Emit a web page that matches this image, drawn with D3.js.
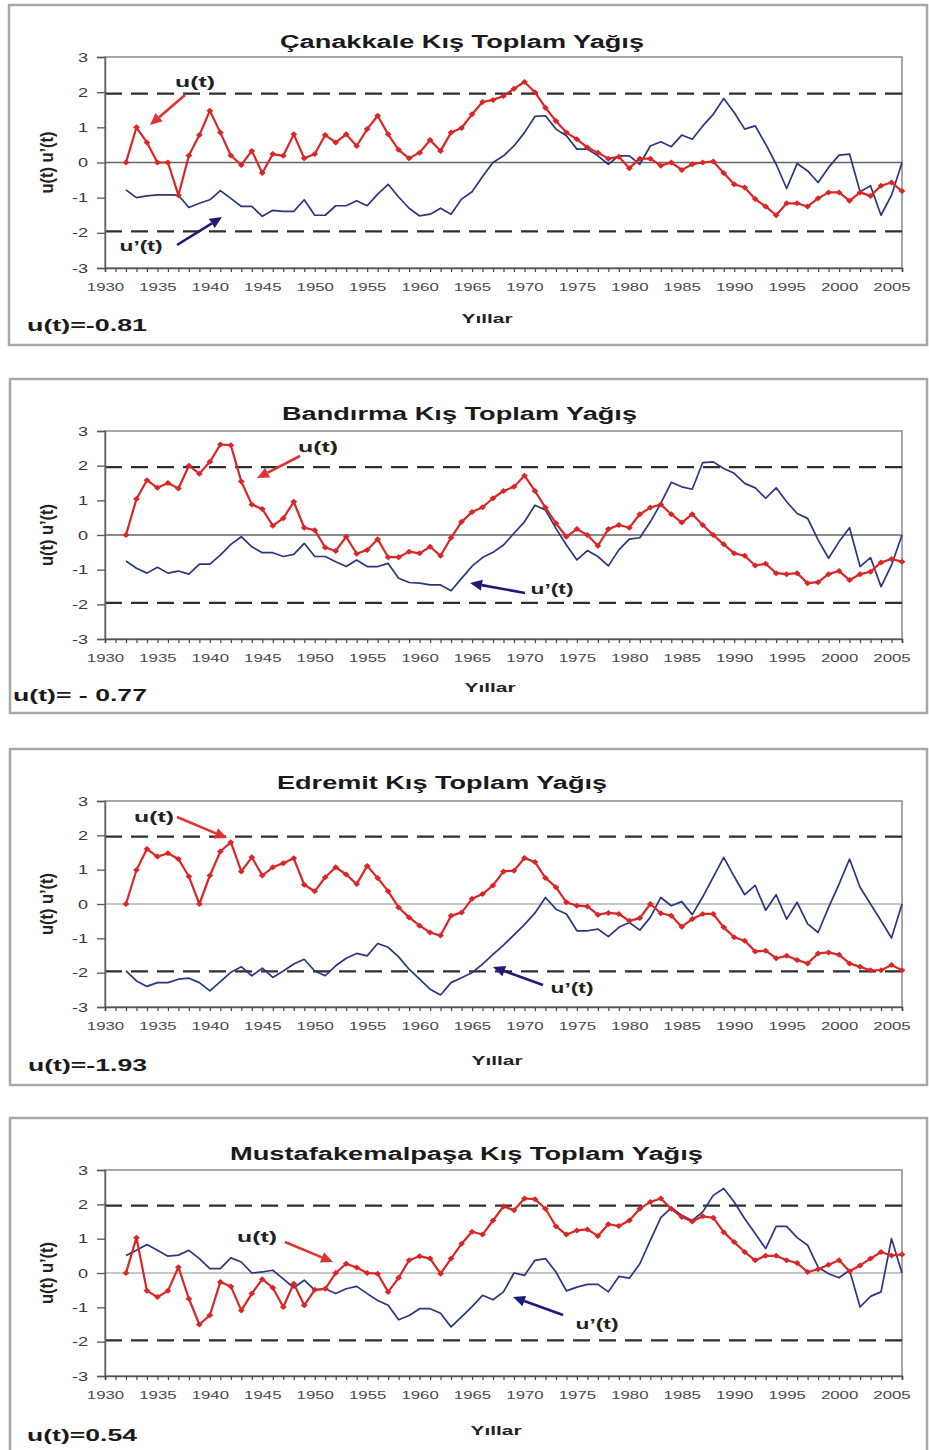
<!DOCTYPE html>
<html>
<head>
<meta charset="utf-8">
<script src="https://cdn.jsdelivr.net/npm/d3@7"></script>
<style>
  body { margin: 0; background: #fff; }
  svg { display: block; }
  text { font-family: "Liberation Sans", Arial, sans-serif; }
</style>
</head>
<body>
<svg id="chart" width="929" height="1450"></svg>
<script>
// Sequential Mann-Kendall statistics of winter total precipitation, 1932-2006
const years = d3.range(1932, 2007);
const yearTicks = d3.range(1930, 2007);
const yTicks = [-3, -2, -1, 0, 1, 2, 3];
const critical = 1.96;

const canakkaleU = [0, 1.0, 0.57, 0.0, 0.0, -0.93, 0.2, 0.78, 1.47, 0.85,
  0.2, -0.07, 0.33, -0.3, 0.24, 0.19, 0.8, 0.12, 0.24, 0.78,
  0.57, 0.8, 0.47, 0.95, 1.33, 0.8, 0.36, 0.12, 0.28, 0.64,
  0.33, 0.85, 0.98, 1.37, 1.72, 1.78, 1.89, 2.1, 2.29, 2.0,
  1.56, 1.18, 0.85, 0.66, 0.43, 0.28, 0.11, 0.16, -0.16, 0.11,
  0.11, -0.09, 0.0, -0.21, -0.05, 0.0, 0.03, -0.3, -0.62, -0.71,
  -1.04, -1.25, -1.5, -1.16, -1.16, -1.25, -1.02, -0.85, -0.85, -1.09,
  -0.85, -0.95, -0.66, -0.57, -0.81];
const canakkaleUp = [-0.78, -1.0, -0.95, -0.92, -0.92, -0.93, -1.28, -1.16, -1.06, -0.8,
  -1.02, -1.25, -1.25, -1.53, -1.36, -1.39, -1.39, -1.06, -1.5, -1.5,
  -1.23, -1.23, -1.09, -1.23, -0.9, -0.62, -0.98, -1.3, -1.52, -1.47,
  -1.3, -1.47, -1.04, -0.83, -0.4, 0.0, 0.19, 0.47, 0.85, 1.31,
  1.33, 0.95, 0.76, 0.38, 0.38, 0.19, -0.05, 0.19, 0.19, -0.05,
  0.47, 0.59, 0.45, 0.78, 0.66, 1.04, 1.37, 1.82, 1.42, 0.95,
  1.04, 0.52, -0.05, -0.74, -0.03, -0.24, -0.57, -0.14, 0.21, 0.24,
  -0.83, -0.66, -1.5, -0.93, 0];

const bandirmaU = [0, 1.04, 1.58, 1.36, 1.5, 1.34, 2.0, 1.77, 2.11, 2.61,
  2.59, 1.54, 0.88, 0.75, 0.27, 0.48, 0.96, 0.21, 0.14, -0.36,
  -0.46, -0.05, -0.54, -0.43, -0.12, -0.64, -0.64, -0.48, -0.53, -0.34,
  -0.6, -0.08, 0.38, 0.66, 0.8, 1.06, 1.27, 1.39, 1.71, 1.27,
  0.79, 0.34, -0.05, 0.17, 0.0, -0.31, 0.17, 0.29, 0.21, 0.6,
  0.79, 0.88, 0.6, 0.36, 0.6, 0.29, 0.0, -0.27, -0.53, -0.6,
  -0.88, -0.83, -1.1, -1.13, -1.1, -1.39, -1.36, -1.13, -1.04, -1.3,
  -1.13, -1.06, -0.79, -0.69, -0.77];
const bandirmaUp = [-0.75, -0.96, -1.1, -0.93, -1.1, -1.04, -1.13, -0.84, -0.84, -0.58,
  -0.27, -0.05, -0.34, -0.51, -0.51, -0.62, -0.56, -0.24, -0.62, -0.62,
  -0.77, -0.91, -0.72, -0.91, -0.91, -0.82, -1.25, -1.37, -1.39, -1.44,
  -1.44, -1.61, -1.25, -0.9, -0.65, -0.5, -0.29, 0.05, 0.38, 0.86,
  0.72, 0.19, -0.29, -0.72, -0.45, -0.62, -0.89, -0.43, -0.12, -0.08,
  0.38, 0.91, 1.52, 1.39, 1.32, 2.09, 2.11, 1.92, 1.78, 1.49,
  1.36, 1.06, 1.36, 0.96, 0.62, 0.48, -0.14, -0.67, -0.19, 0.21,
  -0.91, -0.65, -1.49, -0.87, 0];

const edremitU = [0, 0.99, 1.6, 1.38, 1.48, 1.31, 0.8, 0, 0.83, 1.53,
  1.8, 0.95, 1.36, 0.83, 1.07, 1.19, 1.33, 0.56, 0.37, 0.78,
  1.07, 0.86, 0.58, 1.11, 0.76, 0.37, -0.1, -0.39, -0.63, -0.83,
  -0.92, -0.34, -0.25, 0.15, 0.29, 0.54, 0.95, 0.97, 1.34, 1.22,
  0.76, 0.49, 0.05, -0.05, -0.07, -0.31, -0.26, -0.29, -0.49, -0.41,
  0.0, -0.27, -0.34, -0.66, -0.44, -0.29, -0.29, -0.68, -0.97, -1.07,
  -1.38, -1.36, -1.58, -1.51, -1.63, -1.73, -1.44, -1.41, -1.48, -1.73,
  -1.83, -1.93, -1.93, -1.78, -1.93];
const edremitUp = [-1.95, -2.24, -2.4, -2.29, -2.29, -2.19, -2.16, -2.29, -2.53, -2.26,
  -1.99, -1.83, -2.09, -1.87, -2.14, -1.95, -1.75, -1.61, -1.95, -2.09,
  -1.8, -1.58, -1.44, -1.51, -1.15, -1.26, -1.54, -1.9, -2.19, -2.48,
  -2.65, -2.29, -2.15, -2.0, -1.75, -1.47, -1.2, -0.9, -0.6, -0.26,
  0.19, -0.15, -0.29, -0.78, -0.78, -0.73, -0.95, -0.68, -0.54, -0.76,
  -0.39, 0.19, -0.05, 0.07, -0.31, 0.21, 0.78, 1.36, 0.8, 0.27,
  0.54, -0.18, 0.27, -0.44, 0.05, -0.58, -0.83, -0.1, 0.58, 1.31,
  0.49, 0.0, -0.49, -0.99, 0];

const mkpU = [0, 1.03, -0.52, -0.7, -0.52, 0.17, -0.75, -1.5, -1.23, -0.26,
  -0.39, -1.09, -0.6, -0.18, -0.43, -0.99, -0.31, -0.94, -0.49, -0.46,
  0, 0.27, 0.16, 0, -0.02, -0.55, -0.14, 0.37, 0.49, 0.42,
  -0.02, 0.42, 0.85, 1.2, 1.12, 1.53, 1.94, 1.83, 2.17, 2.15,
  1.87, 1.36, 1.12, 1.24, 1.27, 1.08, 1.42, 1.37, 1.53, 1.87,
  2.07, 2.17, 1.87, 1.63, 1.5, 1.65, 1.61, 1.19, 0.9, 0.61,
  0.37, 0.5, 0.5, 0.37, 0.29, 0.03, 0.11, 0.24, 0.37, 0.05,
  0.22, 0.42, 0.61, 0.51, 0.54];
const mkpUp = [0.51, 0.66, 0.83, 0.66, 0.49, 0.52, 0.66, 0.42, 0.13, 0.13,
  0.44, 0.32, 0, 0.03, 0.08, -0.17, -0.43, -0.21, -0.5, -0.46,
  -0.6, -0.46, -0.39, -0.6, -0.8, -0.94, -1.36, -1.24, -1.04, -1.04,
  -1.17, -1.57, -1.28, -0.98, -0.65, -0.78, -0.55, 0, -0.07, 0.37,
  0.42, 0.03, -0.52, -0.41, -0.33, -0.33, -0.55, -0.1, -0.15, 0.27,
  0.95, 1.61, 1.9, 1.68, 1.53, 1.78, 2.26, 2.46, 2.07, 1.58,
  1.15, 0.71, 1.36, 1.36, 1.03, 0.81, 0.17, -0.02, -0.14, 0.08,
  -0.99, -0.68, -0.55, 1.0, 0];

const titles = ["Çanakkale Kış Toplam Yağış", "Bandırma Kış Toplam Yağış",
  "Edremit Kış Toplam Yağış", "Mustafakemalpaşa Kış Toplam Yağış"];
const statLabels = ["u(t)=-0.81", "u(t)= - 0.77", "u(t)=-1.93", "u(t)=0.54"];

// Layout of the four stacked panels
const panels = [
  { u: canakkaleU, up: canakkaleUp, frame: [9, 5, 918, 340], top: 57, bottom: 268,
    title: [280, 48, 364], xlab: [487, 323], stat: [27, 331, 120], zero: "#666",
    uNote: { text: [195, 87], arrow: [185, 95, 150, 125] },
    upNote: { text: [141, 251], arrow: [177, 245, 222, 217] } },
  { u: bandirmaU, up: bandirmaUp, frame: [10, 379, 917, 334], top: 431, bottom: 639,
    title: [282, 420, 355], xlab: [490, 692], stat: [13, 701, 134], zero: "#666",
    uNote: { text: [318, 452], arrow: [300, 456, 257, 478] },
    upNote: { text: [552, 594], arrow: [525, 593, 470, 583] } },
  { u: edremitU, up: edremitUp, frame: [10, 749, 917, 336], top: 801, bottom: 1007,
    title: [277, 789, 330], xlab: [497, 1065], stat: [28, 1071, 119], zero: "#b4b4b4",
    uNote: { text: [154, 822], arrow: [177, 817, 227, 838] },
    upNote: { text: [572, 993], arrow: [543, 985, 493, 967] } },
  { u: mkpU, up: mkpUp, frame: [10, 1118, 917, 360], top: 1170, bottom: 1376,
    title: [230, 1160, 473], xlab: [496, 1435], stat: [27, 1441, 110], zero: "#b4b4b4",
    uNote: { text: [257, 1242], arrow: [285, 1242, 333, 1262] },
    upNote: { text: [597, 1329], arrow: [563, 1315, 513, 1297] } }
];

const RED = "#d92626";
const NAVY = "#2b3580";
const ARROW_NAVY = "#1e1a7a";

const svg = d3.select("#chart");
svg.append("rect").attr("width", 929).attr("height", 1450).attr("fill", "#fff");

const x = d3.scaleLinear().domain([1930, 2006]).range([105, 902]);

function arrow(g, x1, y1, x2, y2, color) {
  const a = Math.atan2(y2 - y1, x2 - x1), L = 12, W = 5.5;
  const bx = x2 - L * Math.cos(a), by = y2 - L * Math.sin(a);
  g.append("line").attr("x1", x1).attr("y1", y1).attr("x2", bx).attr("y2", by)
    .attr("stroke", color).attr("stroke-width", 2.6);
  g.append("path")
    .attr("d", `M${x2},${y2}L${bx + W * Math.sin(a)},${by - W * Math.cos(a)}L${bx - W * Math.sin(a)},${by + W * Math.cos(a)}Z`)
    .attr("fill", color);
}

panels.forEach((p, k) => {
  const g = svg.append("g");
  const y = d3.scaleLinear().domain([-3, 3]).range([p.bottom, p.top]);

  // outer frame
  const [fx, fy, fw, fh] = p.frame;
  g.append("rect").attr("x", fx).attr("y", fy).attr("width", fw).attr("height", fh)
    .attr("fill", "#fff").attr("stroke", "#a8a8a8").attr("stroke-width", 2.5);

  // plot area border
  g.append("rect").attr("x", x.range()[0]).attr("y", p.top)
    .attr("width", x.range()[1] - x.range()[0]).attr("height", p.bottom - p.top)
    .attr("fill", "none").attr("stroke", "#8a8a8a").attr("stroke-width", 1.5);

  // title
  g.append("text").attr("x", p.title[0]).attr("y", p.title[1])
    .attr("font-size", 18).attr("font-weight", "bold").attr("fill", "#1a1a1a")
    .attr("textLength", p.title[2]).attr("lengthAdjust", "spacingAndGlyphs")
    .text(titles[k]);

  // zero line and ±1.96 confidence limits
  g.append("line").attr("x1", x.range()[0]).attr("x2", x.range()[1])
    .attr("y1", y(0)).attr("y2", y(0)).attr("stroke", p.zero).attr("stroke-width", 1.6);
  [critical, -critical].forEach(c => {
    g.append("line").attr("x1", x.range()[0]).attr("x2", x.range()[1])
      .attr("y1", y(c)).attr("y2", y(c))
      .attr("stroke", "#2e2e2e").attr("stroke-width", 2.2)
      .attr("stroke-dasharray", "17,9");
  });

  // y axis
  const ya = g.append("g").attr("transform", `translate(${x.range()[0]},0)`)
    .call(d3.axisLeft(y).tickValues(yTicks).tickSize(8).tickPadding(9).tickFormat(d => String(d)));
  ya.select(".domain").attr("stroke", "#666").attr("stroke-width", 1.5);
  ya.selectAll(".tick line").attr("stroke", "#555").attr("stroke-width", 1.3);
  ya.selectAll(".tick text").attr("font-size", 12.5).attr("fill", "#3a3a3a")
    .attr("font-family", "Liberation Sans, Arial, sans-serif")
    .attr("x", -17 / 1.45).attr("transform", "scale(1.45,1)");

  // x axis
  const xa = g.append("g").attr("transform", `translate(0,${p.bottom})`)
    .call(d3.axisBottom(x).tickValues(yearTicks).tickSize(4).tickPadding(12)
      .tickFormat(d => d % 5 === 0 ? d : ""));
  xa.select(".domain").attr("stroke", "#555").attr("stroke-width", 1.6);
  xa.selectAll(".tick line").attr("stroke", "#444").attr("stroke-width", 1.2);
  xa.selectAll(".tick text").attr("font-size", 10.5).attr("fill", "#484848")
    .attr("font-family", "Liberation Sans, Arial, sans-serif")
    .attr("transform", "scale(1.6,1)");

  // axis titles
  g.append("text")
    .attr("transform", `translate(47,${y(0)}) scale(1.45,1) rotate(-90)`)
    .attr("text-anchor", "middle").attr("dy", "0.35em")
    .attr("font-size", 12.5).attr("font-weight", "bold").attr("fill", "#222")
    .attr("textLength", 62).attr("lengthAdjust", "spacingAndGlyphs")
    .text("u(t) u’(t)");
  g.append("text").attr("x", p.xlab[0] - 25.5).attr("y", p.xlab[1])
    .attr("font-size", 13).attr("font-weight", "bold").attr("fill", "#222")
    .attr("textLength", 51).attr("lengthAdjust", "spacingAndGlyphs")
    .text("Yıllar");

  // statistic label
  g.append("text").attr("x", p.stat[0]).attr("y", p.stat[1])
    .attr("font-size", 17).attr("font-weight", "bold").attr("fill", "#1a1a1a")
    .attr("textLength", p.stat[2]).attr("lengthAdjust", "spacingAndGlyphs")
    .text(statLabels[k]);

  // backward series u'(t)
  const line = d3.line().x((d, i) => x(years[i])).y(d => y(d));
  g.append("path").datum(p.up).attr("d", line)
    .attr("fill", "none").attr("stroke", NAVY).attr("stroke-width", 1.7)
    .attr("stroke-linejoin", "round");

  // progressive series u(t) with diamond markers
  g.append("path").datum(p.u).attr("d", line)
    .attr("fill", "none").attr("stroke", RED).attr("stroke-width", 2.2)
    .attr("stroke-linejoin", "round");
  g.selectAll(".mk").data(p.u).enter().append("path")
    .attr("transform", (d, i) => `translate(${x(years[i])},${y(d)})`)
    .attr("d", "M0,-3L3.4,0L0,3L-3.4,0Z").attr("fill", RED);

  // annotations
  g.append("text").attr("x", p.uNote.text[0]).attr("y", p.uNote.text[1])
    .attr("text-anchor", "middle").attr("font-size", 14.5).attr("font-weight", "bold")
    .attr("fill", "#222").attr("textLength", 40).attr("lengthAdjust", "spacingAndGlyphs")
    .text("u(t)");
  arrow(g, ...p.uNote.arrow, "#e03232");
  g.append("text").attr("x", p.upNote.text[0]).attr("y", p.upNote.text[1])
    .attr("text-anchor", "middle").attr("font-size", 14.5).attr("font-weight", "bold")
    .attr("fill", "#222").attr("textLength", 43).attr("lengthAdjust", "spacingAndGlyphs")
    .text("u’(t)");
  arrow(g, ...p.upNote.arrow, ARROW_NAVY);
});
</script>
</body>
</html>
